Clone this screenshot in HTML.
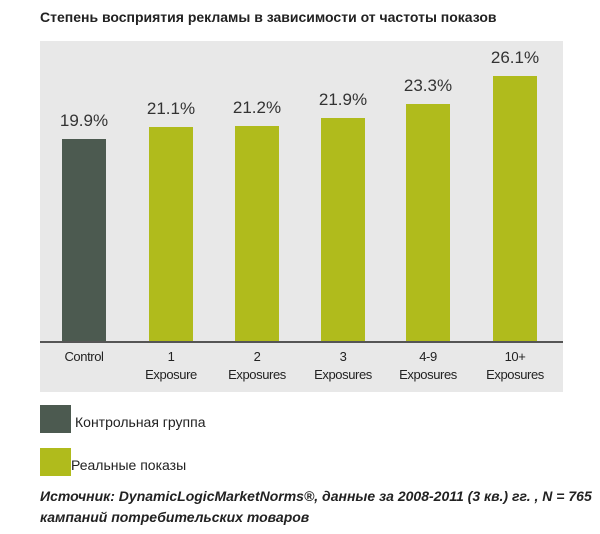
<!DOCTYPE html>
<html><head><meta charset="utf-8"><style>
body{margin:0;width:600px;height:534px;background:#fff;font-family:"Liberation Sans",Arial,sans-serif;position:relative;overflow:hidden}
.a{position:absolute}
.bar{position:absolute;width:44px}
.v{position:absolute;width:80px;text-align:center;font-size:17px;color:#333}
.c{position:absolute;width:80px;text-align:center;font-size:13px;color:#222;line-height:18px;letter-spacing:-0.4px}
</style></head><body>
<div class="a" style="left:40px;top:9px;font-size:14px;font-weight:bold;color:#222">Степень восприятия рекламы в зависимости от частоты показов</div>
<div class="a" style="left:40px;top:41px;width:523px;height:351px;background:#e8e8e8"></div>
<div class="a" style="left:40px;top:341px;width:523px;height:2px;background:#555"></div>
<div class="bar" style="left:62px;top:139px;height:202px;background:#4c5a50"></div>
<div class="bar" style="left:149px;top:127px;height:214px;background:#b0bb1c"></div>
<div class="bar" style="left:235px;top:126px;height:215px;background:#b0bb1c"></div>
<div class="bar" style="left:321px;top:118px;height:223px;background:#b0bb1c"></div>
<div class="bar" style="left:406px;top:104px;height:237px;background:#b0bb1c"></div>
<div class="bar" style="left:493px;top:76px;height:265px;background:#b0bb1c"></div>
<div class="v" style="left:44px;top:111px">19.9%</div>
<div class="v" style="left:131px;top:99px">21.1%</div>
<div class="v" style="left:217px;top:98px">21.2%</div>
<div class="v" style="left:303px;top:90px">21.9%</div>
<div class="v" style="left:388px;top:76px">23.3%</div>
<div class="v" style="left:475px;top:48px">26.1%</div>
<div class="c" style="left:44px;top:348px">Control</div>
<div class="c" style="left:131px;top:348px">1<br>Exposure</div>
<div class="c" style="left:217px;top:348px">2<br>Exposures</div>
<div class="c" style="left:303px;top:348px">3<br>Exposures</div>
<div class="c" style="left:388px;top:348px">4-9<br>Exposures</div>
<div class="c" style="left:475px;top:348px">10+<br>Exposures</div>
<div class="a" style="left:40px;top:405px;width:31px;height:28px;background:#4c5a50"></div>
<div class="a" style="left:75px;top:414px;font-size:14px;color:#222">Контрольная группа</div>
<div class="a" style="left:40px;top:448px;width:31px;height:28px;background:#b0bb1c"></div>
<div class="a" style="left:71px;top:457px;font-size:14px;color:#222">Реальные показы</div>
<div class="a" style="left:40px;top:486px;font-size:14px;font-weight:bold;font-style:italic;color:#222;line-height:21px">Источник: DynamicLogicMarketNorms®, данные за 2008-2011 (3 кв.) гг. , N = 765<br>кампаний потребительских товаров</div>
</body></html>
